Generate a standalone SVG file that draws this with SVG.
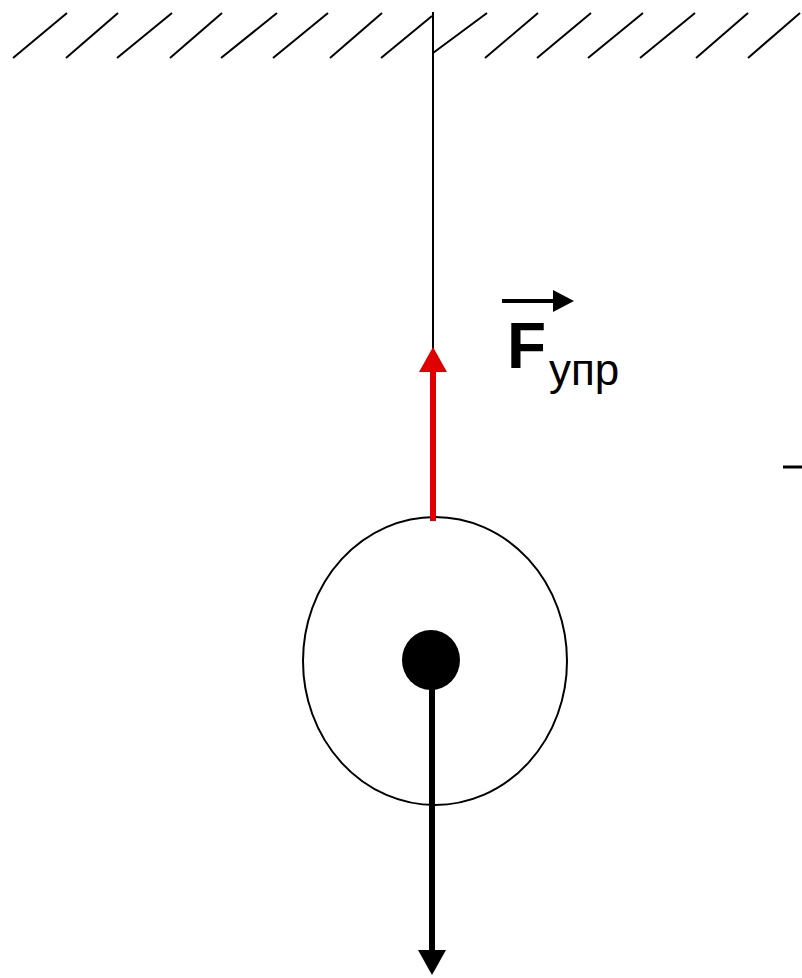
<svg xmlns="http://www.w3.org/2000/svg" width="802" height="978" viewBox="0 0 802 978">
<style>
.hatch{stroke:#000;stroke-width:2;fill:none}
.thin{stroke:#000;stroke-width:2;fill:none}
.lbl{font-family:"Liberation Sans",Arial,sans-serif;fill:#000}
</style>
<rect width="802" height="978" fill="#fff"/>
<g id="ceiling">
<line class="hatch" x1="13" y1="58" x2="67" y2="13"/>
<line class="hatch" x1="66" y1="58" x2="118" y2="13"/>
<line class="hatch" x1="117" y1="58" x2="172" y2="13"/>
<line class="hatch" x1="170" y1="58" x2="222" y2="13"/>
<line class="hatch" x1="221" y1="58" x2="277" y2="13"/>
<line class="hatch" x1="273" y1="58" x2="328" y2="13"/>
<line class="hatch" x1="330" y1="58" x2="382" y2="13"/>
<line class="hatch" x1="381" y1="58" x2="432" y2="16"/>
<line class="hatch" x1="433" y1="53" x2="487" y2="13"/>
<line class="hatch" x1="485" y1="58" x2="538" y2="13"/>
<line class="hatch" x1="537" y1="58" x2="591" y2="13"/>
<line class="hatch" x1="588" y1="58" x2="643" y2="13"/>
<line class="hatch" x1="640" y1="58" x2="695" y2="13"/>
<line class="hatch" x1="696" y1="58" x2="748" y2="13"/>
<line class="hatch" x1="748" y1="58" x2="800" y2="13"/>
</g>
<g id="string">
<line class="thin" x1="433" y1="12" x2="433" y2="352"/>
</g>
<g id="body">
<ellipse cx="435" cy="661" rx="132" ry="144" fill="none" stroke="#000" stroke-width="2"/>
<ellipse cx="431" cy="660" rx="29" ry="30" fill="#000"/>
</g>
<g id="connectors">
<line x1="433" y1="521" x2="433" y2="368" stroke="#e00000" stroke-width="6"/>
<polygon points="433,347 447,372 419,372" fill="#e00000"/>
<line x1="432" y1="680" x2="432" y2="955" stroke="#000" stroke-width="6"/>
<polygon points="418,950 446,950 432,975" fill="#000"/>
</g>
<g id="label">
<line x1="502" y1="301" x2="558" y2="301" stroke="#000" stroke-width="4"/>
<polygon points="553,290 574,301 553,312" fill="#000"/>
<text class="lbl" x="507" y="368" font-size="64" font-weight="bold">F</text>
<text class="lbl" x="549" y="385" font-size="44">упр</text>
</g>
<g id="edge-fragment">
<line x1="783" y1="467" x2="802" y2="467" stroke="#000" stroke-width="3"/>
</g>
</svg>
